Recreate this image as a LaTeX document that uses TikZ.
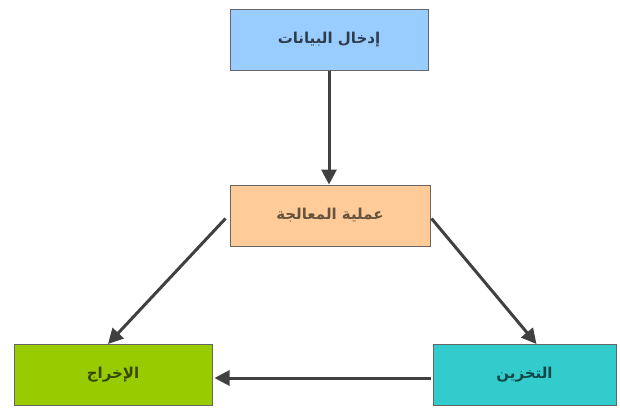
\documentclass[tikz,border=0pt]{standalone}
\usepackage{fontspec}
\usetikzlibrary{arrows.meta}
\TeXXeTstate=1
\newfontfamily\arabicfont[Script=Arabic]{DejaVu Sans}
\definecolor{inblue}{RGB}{153,204,255}
\definecolor{procpeach}{RGB}{255,204,153}
\definecolor{outgreen}{RGB}{153,204,0}
\definecolor{storeteal}{RGB}{51,204,204}
\tikzset{
    box/.style={draw=black!60, line width=1pt, minimum height=61pt, inner sep=0pt,
        font=\arabicfont\bfseries\fontsize{15}{18}\selectfont},
    arr/.style={line width=3pt, draw=black!75, -{Triangle[length=15pt,width=15pt]}},
}

\begin{document}
\begin{tikzpicture}[x=1pt, y=-1pt]
    \newcommand\posTop{39.5}
    \newcommand\posMid{215.5}
    \newcommand\posBot{375}

    \useasboundingbox (0,0) rectangle (620,407);

    \node[box, minimum width=198pt, fill=inblue, text=inblue!30!black] (input) at (329, \posTop){\beginR إدخال البيانات\endR};
    \node[box, minimum width=200pt, fill=procpeach, text=procpeach!40!black] (proc) at (330, \posMid){\beginR عملية المعالجة\endR};
    \node[box, minimum width=198pt, fill=outgreen, text=outgreen!35!black] (outp) at (113, \posBot){\beginR الإخراج\endR};
    \node[box, minimum width=183pt, fill=storeteal, text=storeteal!35!black] (store) at (524.5, \posBot){\beginR التخزين\endR};

    \draw[arr] (input.south) -- (input.south |- proc.north);
    \draw[arr] ([xshift=-4pt, yshift=-3pt]proc.west) -- ([xshift=-5pt]outp.north);
    \draw[arr] ([xshift=1pt, yshift=-3pt]proc.east) -- ([xshift=12pt]store.north);
    \draw[arr] ([xshift=-2pt, yshift=-3pt]store.west) -- ([xshift=2pt, yshift=-3pt]outp.east);
\end{tikzpicture}
\end{document}
